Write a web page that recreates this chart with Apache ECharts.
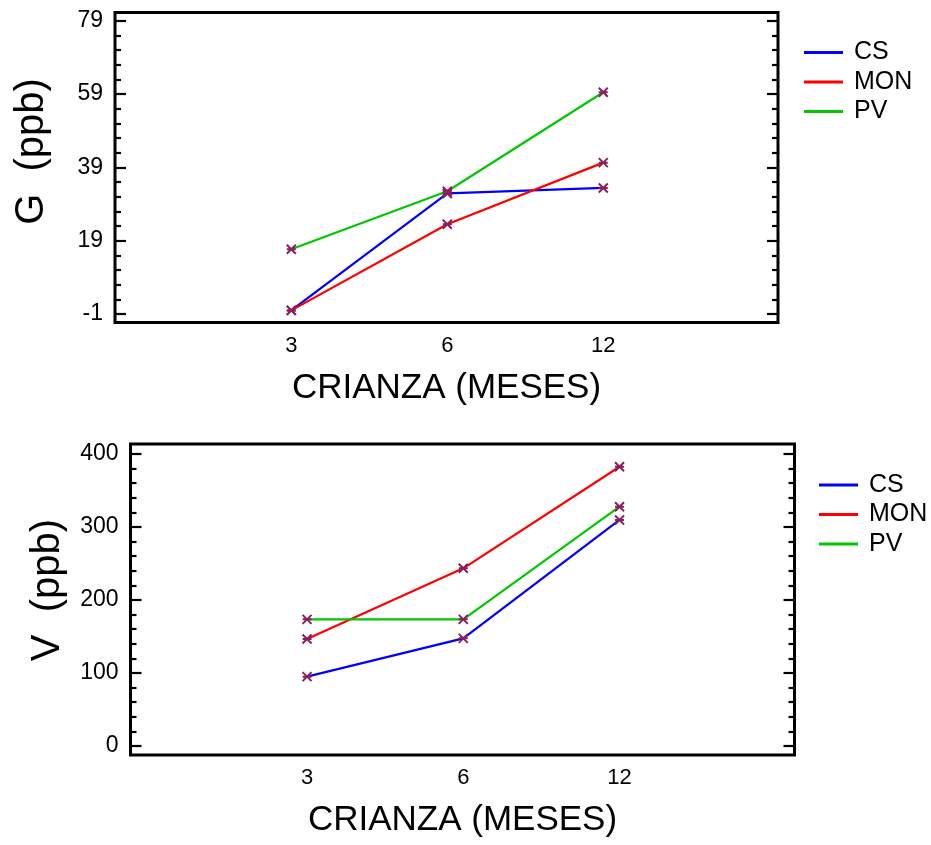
<!DOCTYPE html>
<html>
<head>
<meta charset="utf-8">
<script src="https://cdn.jsdelivr.net/npm/echarts@6/dist/echarts.min.js"></script>
<style>
html,body{margin:0;padding:0;background:#fff;}
#c{width:931px;height:845px;}
</style>
</head>
<body>
<div id="c"></div>
<script>
// ---- data ----
const categories = ['3', '6', '12'];
const seriesNames = ['CS', 'MON', 'PV'];
const gCS  = [0.0, 31.9, 33.4];
const gMON = [0.0, 23.5, 40.3];
const gPV  = [16.7, 32.5, 59.5];
const vCS  = [95, 147.5, 309.6];
const vMON = [146.6, 243.4, 382.6];
const vPV  = [173.5, 173.5, 327.8];
const gTicks = [-1, 19, 39, 59, 79];
const vTicks = [0, 100, 200, 300, 400];
const gMinorStep = 4;
const vMinorStep = 20;

// ---- styles ----
const lineColors = { CS: '#0000ff', MON: '#ff0000', PV: '#00c800' };
const markerColor = '#8a1f5e';
const FONT = 'Liberation Sans, Arial, sans-serif';

function minorTicks(major, step) {
  const out = [];
  for (let k = 0; k < major.length - 1; k++) {
    for (let v = major[k] + step; v < major[k + 1] - 1e-9; v += step) out.push(v);
  }
  return out;
}

function yAxes(gridIndex, min, max, major, minor, name, namePad) {
  const base = {
    type: 'value', gridIndex, min, max,
    axisLine: { show: false, onZero: false }, splitLine: { show: false }
  };
  const tick = (vals, len) => ({ show: true, inside: true, length: len, customValues: vals,
    lineStyle: { color: '#000', width: 2.2 } });
  return [
    Object.assign({}, base, {
      position: 'left',
      axisTick: tick(major, 11),
      axisLabel: { customValues: major, fontSize: 23, color: '#000', fontFamily: FONT, margin: 12 },
      name: name, nameLocation: 'middle', nameGap: 63, nameRotate: 90,
      nameTextStyle: { fontSize: 40, color: '#000', fontFamily: FONT, padding: [0, 0, 0, namePad] }
    }),
    Object.assign({}, base, { position: 'left', axisTick: tick(minor, 6), axisLabel: { show: false } }),
    Object.assign({}, base, { position: 'right', axisTick: tick(major, 11), axisLabel: { show: false } }),
    Object.assign({}, base, { position: 'right', axisTick: tick(minor, 6), axisLabel: { show: false } })
  ];
}

function xAxis(gridIndex) {
  return {
    type: 'value', gridIndex, min: -1.13, max: 3.12,
    axisLine: { show: false, onZero: false }, axisTick: { show: false }, splitLine: { show: false },
    axisLabel: { customValues: categories.map((c, i) => i), formatter: v => categories[Math.round(v)],
      fontSize: 22, color: '#000', fontFamily: FONT, margin: 12 },
    name: 'CRIANZA (MESES)', nameLocation: 'middle', nameGap: 48,
    nameTextStyle: { fontSize: 35, color: '#000', fontFamily: FONT }
  };
}

function mkSeries(name, vals, xi, yi) {
  return {
    name, type: 'line', xAxisIndex: xi, yAxisIndex: yi,
    data: vals.map((v, i) => [i, v]),
    lineStyle: { color: lineColors[name], width: 2.2 },
    symbol: 'path://M0,0L10,10M10,0L0,10M0,5L10,5',
    symbolSize: 9,
    showSymbol: true,
    itemStyle: { color: markerColor, borderColor: markerColor, borderWidth: 2 },
    emphasis: { disabled: true },
    z: 3
  };
}

function legend(left, top) {
  return {
    orient: 'vertical', left, top, padding: 0,
    icon: 'rect', itemWidth: 39, itemHeight: 3, itemGap: 4.5,
    textStyle: { fontSize: 25, color: '#000', fontFamily: FONT, padding: [0, 0, 0, 6], lineHeight: 25 },
    data: seriesNames.map(n => ({ name: n, itemStyle: { color: lineColors[n], borderWidth: 0 } })),
    selectedMode: false
  };
}

const chart = echarts.init(document.getElementById('c'), null, { renderer: 'canvas' });
chart.setOption({
  animation: false,
  backgroundColor: '#fff',
  grid: [
    { left: 115, top: 12.5, width: 663, height: 310, show: true, borderColor: '#000', borderWidth: 3, containLabel: false },
    { left: 130.5, top: 444, width: 664, height: 311, show: true, borderColor: '#000', borderWidth: 3, containLabel: false }
  ],
  xAxis: [xAxis(0), xAxis(1)],
  yAxis: [].concat(
    yAxes(0, -3.3, 81.25, gTicks, minorTicks(gTicks, gMinorStep), 'G  (ppb)', 32),
    yAxes(1, -12.3, 413.7, vTicks, minorTicks(vTicks, vMinorStep), 'V  (ppb)', 19)
  ),
  legend: [legend(804, 40), legend(819, 472.5)],
  series: [
    mkSeries('CS', gCS, 0, 0),
    mkSeries('MON', gMON, 0, 0),
    mkSeries('PV', gPV, 0, 0),
    mkSeries('CS', vCS, 1, 4),
    mkSeries('MON', vMON, 1, 4),
    mkSeries('PV', vPV, 1, 4)
  ]
});
</script>
</body>
</html>
